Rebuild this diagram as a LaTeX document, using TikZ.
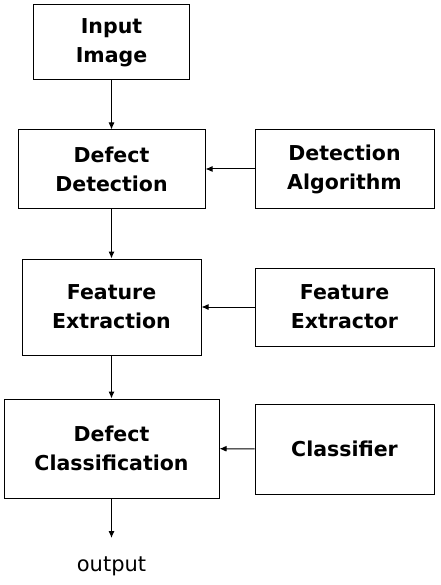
\documentclass[tikz,border=0pt]{standalone}
\usepackage{fontspec}
\setmainfont{DejaVu Sans}
\usetikzlibrary{arrows.meta}
\tikzstyle{block}=[draw, line width=1pt, align=center, inner sep=0pt, font=\fontsize{20.5}{29}\selectfont\bfseries]
\tikzset{link/.style={-{Latex[length=7pt,width=6pt]}, line width=1pt}}
\begin{document}
\begin{tikzpicture}[x=1pt,y=-1pt]
  \useasboundingbox (0,0) rectangle (440,585);
  \draw (111.5,42.5) node[block,minimum width=156pt,minimum height=75pt] (M1) {Input\\Image};
  \draw (111.5,169) node[block,minimum width=187pt,minimum height=78pt] (M2) {Defect\\Detection};
  \draw (111.5,307) node[block,minimum width=179pt,minimum height=96pt] (M3) {Feature\\Extraction};
  \draw (111.5,448.5) node[block,minimum width=215pt,minimum height=99pt] (M4) {Defect\\Classification};

  \draw (344.5,169) node[block,minimum width=179pt,minimum height=78pt] (S2) {Detection\\Algorithm};
  \draw (344.5,307) node[block,minimum width=179pt,minimum height=78pt] (S3) {Feature\\Extractor};
  \draw (344.5,449) node[block,minimum width=179pt,minimum height=90pt] (S4) {Classifier};

  \coordinate (O) at (111.5,538);
  \draw (111.5,566) node[font=\fontsize{21}{25}\selectfont] (Out) {output};

  \draw[link] (M1) -- (M2);
  \draw[link] (M2) -- (M3);
  \draw[link] (M3) -- (M4);
  \draw[link] (M4) -- (O);

  \draw[link] (S2) -- (M2);
  \draw[link] (S3) -- (M3);
  \draw[link] (S4) -- (M4);
\end{tikzpicture}
\end{document}
